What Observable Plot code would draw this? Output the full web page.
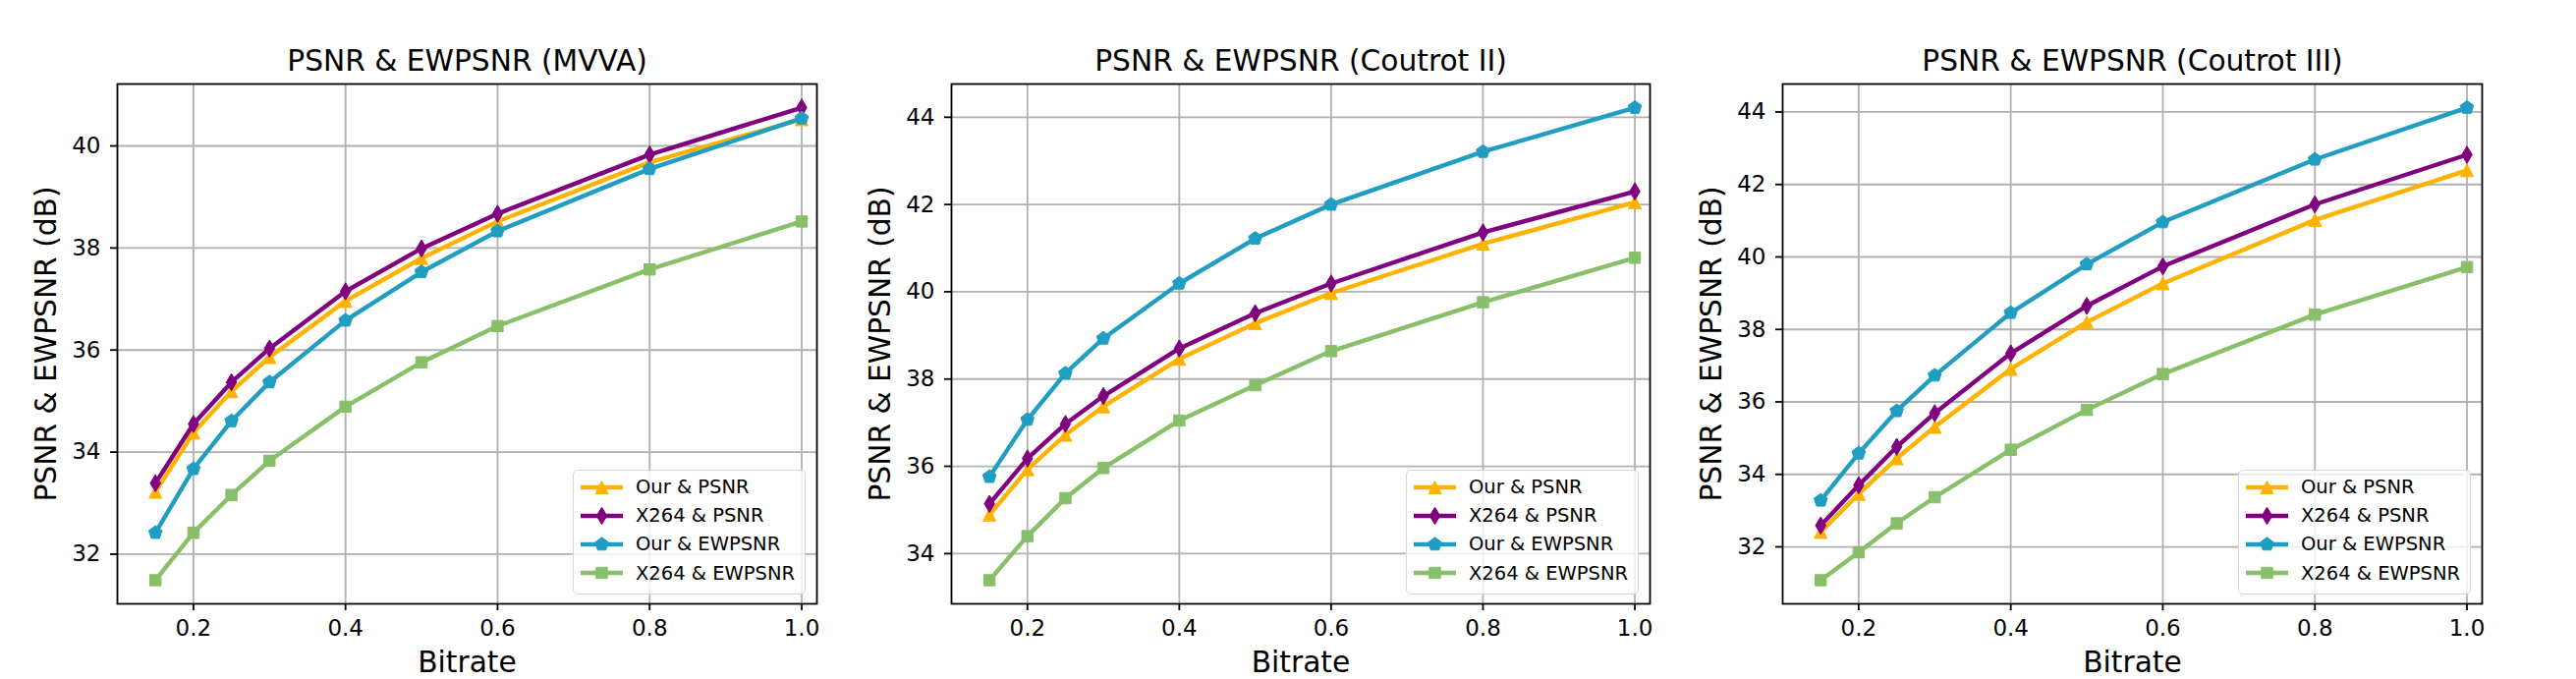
<!DOCTYPE html>
<html><head><meta charset="utf-8">
<script src="https://cdn.jsdelivr.net/npm/d3@7"></script>
<script src="https://cdn.jsdelivr.net/npm/@observablehq/plot@0.6"></script>
<style>
body{margin:0;background:#fff;}
#row{display:flex;width:2622px;height:691px;overflow:hidden;}
.panel{position:relative;height:691px;flex:none;}
.panel svg{display:block;}
.legend{position:absolute;box-sizing:border-box;width:237px;height:127px;background:rgba(255,255,255,0.8);border:1.5px solid #d6d6d6;border-radius:5px;font-family:"DejaVu Sans",sans-serif;font-size:19.5px;color:#000;}
.legend .item{position:absolute;left:0;height:24px;display:flex;align-items:center;white-space:nowrap;}
.legend .item svg{display:block;margin-left:5px;margin-right:12px;}
</style>
</head><body><div id="row"></div>
<script>
// x values
const bitrate = [0.15, 0.2, 0.25, 0.3, 0.4, 0.5, 0.6, 0.8, 1.0];
const xTicks = [0.2, 0.4, 0.6, 0.8, 1.0];

const seriesNames = ["Our & PSNR", "X264 & PSNR", "Our & EWPSNR", "X264 & EWPSNR"];
const seriesColors = ["#FFB300", "#800080", "#1F9EC1", "#88BF69"];

// MVVA
const mvvaOurPSNR    = [33.22, 34.38, 35.19, 35.86, 36.96, 37.80, 38.52, 39.68, 40.52];
const mvvaX264PSNR   = [33.39, 34.55, 35.37, 36.03, 37.15, 37.99, 38.67, 39.83, 40.75];
const mvvaOurEWPSNR  = [32.42, 33.67, 34.61, 35.37, 36.58, 37.53, 38.33, 39.55, 40.54];
const mvvaX264EWPSNR = [31.49, 32.42, 33.16, 33.83, 34.89, 35.76, 36.47, 37.58, 38.52];
const mvvaYTicks = [32, 34, 36, 38, 40];

// Coutrot II
const c2OurPSNR    = [34.89, 35.93, 36.72, 37.37, 38.46, 39.28, 39.97, 41.10, 42.05];
const c2X264PSNR   = [35.14, 36.18, 36.97, 37.61, 38.70, 39.51, 40.19, 41.36, 42.30];
const c2OurEWPSNR  = [35.76, 37.07, 38.13, 38.93, 40.19, 41.22, 42.00, 43.21, 44.22];
const c2X264EWPSNR = [33.39, 34.40, 35.27, 35.96, 37.05, 37.86, 38.64, 39.76, 40.78];
const c2YTicks = [34, 36, 38, 40, 42, 44];

// Coutrot III
const c3OurPSNR    = [32.41, 33.46, 34.44, 35.31, 36.91, 38.20, 39.27, 41.02, 42.39];
const c3X264PSNR   = [32.59, 33.70, 34.76, 35.69, 37.34, 38.65, 39.74, 41.45, 42.82];
const c3OurEWPSNR  = [33.28, 34.58, 35.75, 36.73, 38.46, 39.80, 40.96, 42.69, 44.12];
const c3X264EWPSNR = [31.08, 31.85, 32.65, 33.37, 34.68, 35.78, 36.77, 38.41, 39.72];
const c3YTicks = [32, 34, 36, 38, 40, 42, 44];

const titles = ["PSNR & EWPSNR (MVVA)", "PSNR & EWPSNR (Coutrot II)", "PSNR & EWPSNR (Coutrot III)"];
const xLabel = "Bitrate";
const yLabel = "PSNR & EWPSNR (dB)";

// marker symbols (matplotlib ^, d, p, s)
const rad = s => Math.sqrt(s / Math.PI);
const triUp = {draw(c, s){ const a = rad(s)*1.0; c.moveTo(0,-a); c.lineTo(a,a); c.lineTo(-a,a); c.closePath(); }};
const thinDiamond = {draw(c, s){ const a = rad(s)*1.35, w = a*0.6; c.moveTo(0,-a); c.lineTo(w,0); c.lineTo(0,a); c.lineTo(-w,0); c.closePath(); }};
const pentagon = {draw(c, s){ const a = rad(s)*1.1; for (let k=0;k<5;k++){ const t = -Math.PI/2 + k*2*Math.PI/5; const px=a*Math.cos(t), py=a*Math.sin(t); if(k===0) c.moveTo(px,py); else c.lineTo(px,py);} c.closePath(); }};
const square = {draw(c, s){ const a = rad(s)*0.88; c.rect(-a,-a,2*a,2*a); }};
const seriesSymbols = [triUp, thinDiamond, pentagon, square];

const panels = [
  {values:[mvvaOurPSNR, mvvaX264PSNR, mvvaOurEWPSNR, mvvaX264EWPSNR], yTicks: mvvaYTicks, width:900, ml:119, mr:69},
  {values:[c2OurPSNR, c2X264PSNR, c2OurEWPSNR, c2X264EWPSNR], yTicks: c2YTicks, width:850, ml:68, mr:71},
  {values:[c3OurPSNR, c3X264PSNR, c3OurEWPSNR, c3X264EWPSNR], yTicks: c3YTicks, width:872, ml:64, mr:96}
];

const H = 691, MT = 85, MB = 77;
const row = document.getElementById("row");

panels.forEach((p, pi) => {
  const rows = [];
  p.values.forEach((vals, si) => vals.forEach((v, i) => rows.push({x: bitrate[i], y: v, s: si})));
  const all = rows.map(d => d.y);
  const lo = d3.min(all), hi = d3.max(all), pad = (hi - lo) * 0.05;

  const marks = [
    Plot.gridX(xTicks, {stroke: "#b0b0b0", strokeOpacity: 1, strokeWidth: 1.8}),
    Plot.gridY(p.yTicks, {stroke: "#b0b0b0", strokeOpacity: 1, strokeWidth: 1.8}),
    Plot.axisX(xTicks, {tickFormat: d3.format(".1f"), tickSize: 7, tickPadding: 9, strokeWidth: 1.8, label: null, fontSize: 23}),
    Plot.axisY(p.yTicks, {tickFormat: d3.format("d"), tickSize: 7, tickPadding: 10, strokeWidth: 1.8, label: null, fontSize: 23}),
  ];
  seriesNames.forEach((name, si) => {
    const data = rows.filter(d => d.s === si);
    marks.push(Plot.line(data, {x: "x", y: "y", stroke: seriesColors[si], strokeWidth: 4.4}));
    marks.push(Plot.dot(data, {x: "x", y: "y", r: 6.5, symbol: seriesSymbols[si], fill: seriesColors[si], stroke: seriesColors[si], strokeWidth: 1}));
  });
  marks.push(Plot.frame({stroke: "#000", strokeWidth: 1.8}));
  marks.push(Plot.text([titles[pi]], {text: d => d, frameAnchor: "top", dy: -22.8, fontSize: 29.7, lineAnchor: "middle", textAnchor: "middle"}));
  marks.push(Plot.text([xLabel], {text: d => d, frameAnchor: "bottom", dy: 59.5, fontSize: 29.7, lineAnchor: "middle", textAnchor: "middle"}));
  marks.push(Plot.text([yLabel], {text: d => d, frameAnchor: "left", dx: -72, rotate: -90, fontSize: 29.7, lineAnchor: "middle", textAnchor: "middle"}));

  const chart = Plot.plot({
    width: p.width, height: H,
    marginTop: MT, marginBottom: MB, marginLeft: p.ml, marginRight: p.mr,
    style: {fontFamily: "DejaVu Sans", fontSize: "23px", color: "#000", background: "#fff", overflow: "visible"},
    x: {domain: [0.1, 1.02]},
    y: {domain: [lo - pad, hi + pad]},
    marks
  });

  const div = document.createElement("div");
  div.className = "panel";
  div.style.width = p.width + "px";
  div.appendChild(chart);

  // legend (lower right inside axes)
  const axRight = p.width - p.mr;
  const lg = document.createElement("div");
  lg.className = "legend";
  lg.style.left = (axRight - 11 - 237) + "px";
  lg.style.top = (H - MB - 9 - 127) + "px";
  seriesNames.forEach((name, si) => {
    const it = document.createElement("div");
    it.className = "item";
    it.style.top = (18 + 29.2 * si - 12 - 1.5) + "px";
    const sw = d3.create("svg").attr("width", 46).attr("height", 24);
    sw.append("line").attr("x1", 2).attr("x2", 45).attr("y1", 12).attr("y2", 12)
      .attr("stroke", seriesColors[si]).attr("stroke-width", 4.4);
    const path = d3.path();
    seriesSymbols[si].draw(path, Math.PI * 42);
    sw.append("path").attr("d", path.toString()).attr("transform", "translate(23.5,12)")
      .attr("fill", seriesColors[si]).attr("stroke", seriesColors[si]).attr("stroke-width", 1);
    it.appendChild(sw.node());
    const tx = document.createElement("span");
    tx.textContent = name;
    it.appendChild(tx);
    lg.appendChild(it);
  });
  div.appendChild(lg);
  row.appendChild(div);
});
</script>
</body></html>
